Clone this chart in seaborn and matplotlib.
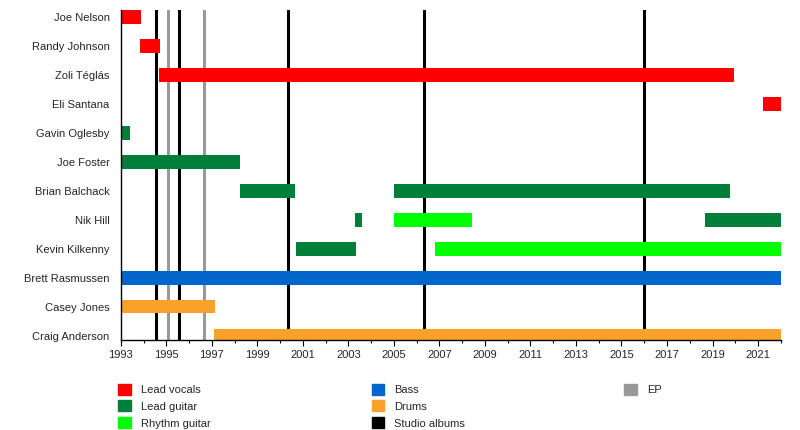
import matplotlib
matplotlib.use("Agg")
import matplotlib.pyplot as plt
import matplotlib.patches as mpatches
from matplotlib.ticker import MultipleLocator
import seaborn as sns

sns.set_theme(style="white")
plt.rcParams["font.family"] = ["Liberation Sans", "DejaVu Sans"]

# band members, top to bottom
members = ["Joe Nelson", "Randy Johnson", "Zoli Téglás", "Eli Santana", "Gavin Oglesby",
           "Joe Foster", "Brian Balchack", "Nik Hill", "Kevin Kilkenny", "Brett Rasmussen",
           "Casey Jones", "Craig Anderson"]

# spans per role: member, start, end (decimal years)
vocals_who = ["Joe Nelson", "Randy Johnson", "Zoli Téglás", "Eli Santana"]
vocals_start = [1993.0, 1993.85, 1994.7, 2021.2]
vocals_end = [1993.88, 1994.72, 2019.95, 2022.0]

lead_who = ["Gavin Oglesby", "Joe Foster", "Brian Balchack", "Brian Balchack", "Nik Hill",
            "Nik Hill", "Kevin Kilkenny"]
lead_start = [1993.0, 1993.0, 1998.23, 2005.0, 2003.3, 2018.67, 2000.7]
lead_end = [1993.42, 1998.23, 2000.65, 2019.77, 2003.6, 2022.0, 2003.33]

rhythm_who = ["Nik Hill", "Kevin Kilkenny"]
rhythm_start = [2005.0, 2006.8]
rhythm_end = [2008.43, 2022.0]

bass_who = ["Brett Rasmussen"]
bass_start = [1993.0]
bass_end = [2022.0]

drums_who = ["Casey Jones", "Craig Anderson"]
drums_start = [1993.0, 1997.1]
drums_end = [1997.15, 2022.0]

studio_albums = [1994.54, 1995.55, 2000.34, 2006.32, 2015.99]
eps = [1995.07, 1996.65]

year_ticks = list(range(1993, 2022, 2))

roles = [
    ("Lead vocals", "#FF0000", vocals_who, vocals_start, vocals_end),
    ("Lead guitar", "#007F3A", lead_who, lead_start, lead_end),
    ("Rhythm guitar", "#00FF00", rhythm_who, rhythm_start, rhythm_end),
    ("Bass", "#0066CC", bass_who, bass_start, bass_end),
    ("Drums", "#F9A12B", drums_who, drums_start, drums_end),
]

fig = plt.figure(figsize=(8, 4.3), dpi=100)
ax = fig.add_axes([0.151, 0.209, 0.825, 0.768])

for x in studio_albums:
    ax.axvline(x, color="black", lw=2.2, zorder=1)
for x in eps:
    ax.axvline(x, color="#999999", lw=2.2, zorder=1)

row = {m: i for i, m in enumerate(members)}
for name, color, who, start, end in roles:
    ax.barh([row[w] for w in who], [e - s for s, e in zip(start, end)], left=start,
            height=0.46, color=color, linewidth=0, zorder=2)

ax.set_yticks(range(len(members)))
ax.set_yticklabels(members)
ax.set_ylim(11.15, -0.25)
ax.set_xlim(1993, 2022)
ax.set_xticks(year_ticks)
ax.set_xticklabels([str(y) for y in year_ticks])
ax.xaxis.set_minor_locator(MultipleLocator(1))
ax.tick_params(axis="x", which="major", length=4, width=0.8, color="black", labelsize=8, pad=3,
               bottom=True)
ax.tick_params(axis="x", which="minor", length=2.5, width=0.8, color="black", bottom=True)
ax.tick_params(axis="y", length=0, labelsize=8, pad=8)
for s in ["top", "right"]:
    ax.spines[s].set_visible(False)
for s in ["left", "bottom"]:
    ax.spines[s].set_color("black")
    ax.spines[s].set_linewidth(1)
ax.grid(False)

legend_cols = [
    (0.1475, ["Lead vocals", "Lead guitar", "Rhythm guitar"], ["#FF0000", "#007F3A", "#00FF00"]),
    (0.4645, ["Bass", "Drums", "Studio albums"], ["#0066CC", "#F9A12B", "#000000"]),
    (0.78, ["EP"], ["#999999"]),
]
for x0, labels, colors in legend_cols:
    handles = [mpatches.Patch(color=c, label=l) for l, c in zip(labels, colors)]
    fig.legend(handles=handles, loc="upper left", bbox_to_anchor=(x0, 0.108),
               frameon=False, fontsize=8, borderpad=0, borderaxespad=0,
               handlelength=1.15, handleheight=1.15, handletextpad=0.9, labelspacing=0.5)

fig.savefig("out.png", dpi=100)
